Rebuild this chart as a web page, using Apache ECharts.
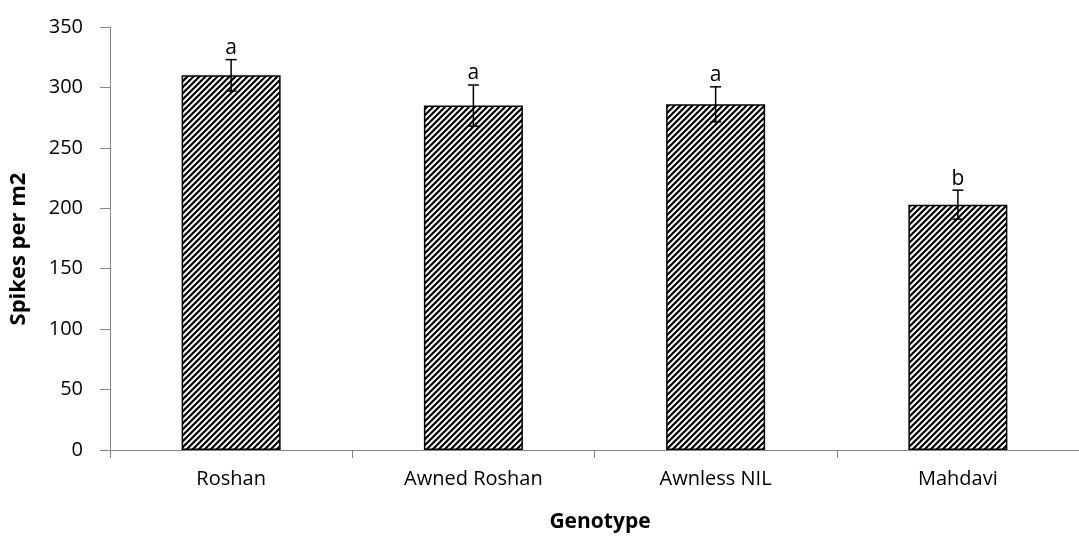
<!DOCTYPE html>
<html>
<head>
<meta charset="utf-8">
<script src="https://cdn.jsdelivr.net/npm/echarts@6/dist/echarts.min.js"></script>
<style>
html,body{margin:0;padding:0;background:#fff;}
#chart{width:1079px;height:536px;}
</style>
</head>
<body>
<div id="chart"></div>
<script>
const categories = ['Roshan', 'Awned Roshan', 'Awnless NIL', 'Mahdavi'];
const values = [310, 285, 286, 203];
const errors = [13, 17, 14.5, 12];
const letters = ['a', 'a', 'a', 'b'];
const yTicks = [0, 50, 100, 150, 200, 250, 300, 350];

function makePattern() {
  const s = 6;
  const c = document.createElement('canvas');
  c.width = s; c.height = s;
  const ctx = c.getContext('2d');
  ctx.fillStyle = '#fff';
  ctx.fillRect(0, 0, s, s);
  ctx.strokeStyle = '#000';
  ctx.lineWidth = 2.2;
  ctx.beginPath();
  ctx.moveTo(-s, 2 * s); ctx.lineTo(2 * s, -s);
  ctx.moveTo(-s, s); ctx.lineTo(s, -s);
  ctx.moveTo(0, 2 * s); ctx.lineTo(2 * s, 0);
  ctx.stroke();
  return c;
}

const FONT = 'Open Sans';
const chart = echarts.init(document.getElementById('chart'));
chart.setOption({
  animation: false,
  backgroundColor: '#fff',
  grid: { left: 110, top: 27, width: 980, height: 423, containLabel: false },
  xAxis: {
    type: 'category',
    data: categories,
    axisLine: { lineStyle: { color: '#868686', width: 1 } },
    axisTick: { show: true, length: 8, alignWithLabel: false, lineStyle: { color: '#868686' } },
    axisLabel: { color: '#000', fontFamily: FONT, fontSize: 20, margin: 19 },
    splitLine: { show: false }
  },
  yAxis: {
    type: 'value',
    min: yTicks[0],
    max: yTicks[yTicks.length - 1],
    interval: 50,
    axisLine: { show: true, lineStyle: { color: '#868686', width: 1 } },
    axisTick: { show: true, length: 10, lineStyle: { color: '#868686' } },
    axisLabel: { color: '#000', fontFamily: FONT, fontSize: 20, margin: 27 },
    splitLine: { show: false }
  },
  graphic: [
    {
      type: 'text',
      x: 600, y: 512,
      style: { text: 'Genotype', font: 'bold 21px "Open Sans"', fill: '#000', textAlign: 'center', textVerticalAlign: 'top' }
    },
    {
      type: 'text',
      x: 8, y: 249,
      rotation: Math.PI / 2,
      style: { text: 'Spikes per m2', font: 'bold 22px "Open Sans"', fill: '#000', textAlign: 'center', textVerticalAlign: 'top' }
    }
  ],
  series: [
    {
      type: 'bar',
      data: values,
      barWidth: 99,
      itemStyle: {
        color: { image: makePattern(), repeat: 'repeat' },
        borderColor: '#000',
        borderWidth: 1.5
      }
    },
    {
      type: 'custom',
      data: values.map((v, i) => [i, v, errors[i]]),
      z: 10,
      renderItem: function (params, api) {
        const i = api.value(0), v = api.value(1), e = api.value(2);
        const top = api.coord([i, v + e]);
        const bot = api.coord([i, v - e]);
        const half = 5.5;
        return {
          type: 'group',
          children: [
            { type: 'line', shape: { x1: top[0], y1: top[1], x2: bot[0], y2: bot[1] }, style: { stroke: '#000', lineWidth: 1.5 } },
            { type: 'line', shape: { x1: top[0] - half, y1: top[1], x2: top[0] + half, y2: top[1] }, style: { stroke: '#000', lineWidth: 1.5 } },
            { type: 'line', shape: { x1: bot[0] - half, y1: bot[1], x2: bot[0] + half, y2: bot[1] }, style: { stroke: '#000', lineWidth: 1.5 } },
            { type: 'text', x: top[0], y: top[1] - 1, style: { text: letters[params.dataIndex], font: '21px "Open Sans"', fill: '#000', textAlign: 'center', textVerticalAlign: 'bottom' } }
          ]
        };
      }
    }
  ]
});
</script>
</body>
</html>
